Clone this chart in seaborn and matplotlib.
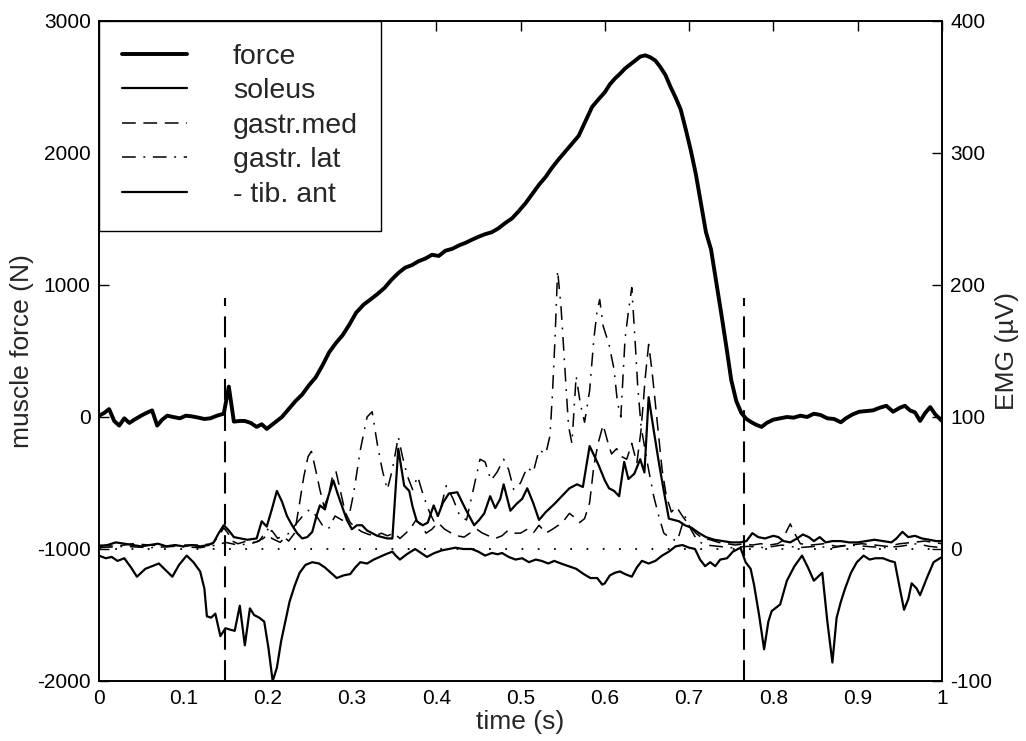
import matplotlib
matplotlib.use("Agg")
import matplotlib.pyplot as plt
import seaborn as sns

# muscle force (N), left axis
t_force = [0.000, 0.006, 0.012, 0.018, 0.024, 0.030, 0.036, 0.042, 0.050, 0.056,
           0.063, 0.069, 0.075, 0.081, 0.088, 0.096, 0.103, 0.110, 0.118, 0.125,
           0.132, 0.140, 0.148, 0.154, 0.160, 0.167, 0.173, 0.180, 0.187, 0.193,
           0.199, 0.205, 0.211, 0.217, 0.225, 0.233, 0.241, 0.249, 0.257, 0.265,
           0.273, 0.281, 0.289, 0.297, 0.305, 0.314, 0.322, 0.330, 0.339, 0.347,
           0.355, 0.363, 0.371, 0.379, 0.387, 0.395, 0.403, 0.411, 0.419, 0.427,
           0.435, 0.442, 0.450, 0.458, 0.466, 0.474, 0.482, 0.490, 0.498, 0.506,
           0.514, 0.522, 0.530, 0.537, 0.545, 0.553, 0.561, 0.569, 0.577, 0.585,
           0.593, 0.600, 0.606, 0.612, 0.618, 0.624, 0.630, 0.636, 0.642, 0.648,
           0.654, 0.660, 0.666, 0.672, 0.678, 0.684, 0.690, 0.696, 0.702, 0.708,
           0.714, 0.720, 0.726, 0.732, 0.738, 0.744, 0.750, 0.756, 0.762, 0.768,
           0.774, 0.780, 0.786, 0.792, 0.800, 0.808, 0.816, 0.824, 0.832, 0.840,
           0.848, 0.856, 0.864, 0.872, 0.880, 0.886, 0.894, 0.902, 0.910, 0.918,
           0.926, 0.934, 0.942, 0.950, 0.956, 0.962, 0.968, 0.974, 0.980, 0.986,
           0.992, 1.000]
force = [10, 30, 60, -30, -65, -10, -45, -20, 10, 30,
         50, -65, -20, 10, 0, -10, 10, 5, -5, -15,
         -10, 10, 25, 230, -35, -30, -30, -45, -75, -55,
         -90, -60, -30, 0, 60, 120, 170, 240, 300, 390,
         490, 560, 620, 700, 790, 852, 890, 930, 980, 1040,
         1090, 1131, 1150, 1180, 1200, 1229, 1220, 1260, 1274, 1300,
         1320, 1342, 1365, 1385, 1400, 1430, 1470, 1505, 1560, 1620,
         1690, 1760, 1820, 1885, 1950, 2010, 2070, 2130, 2240, 2350,
         2410, 2460, 2520, 2564, 2600, 2640, 2670, 2700, 2730, 2740,
         2725, 2700, 2650, 2590, 2500, 2420, 2330, 2180, 2020, 1840,
         1620, 1400, 1270, 1030, 790, 540, 280, 120, 30, -15,
         -40, -60, -75, -45, -20, -10, 0, -5, 10, 0,
         25, 15, -10, -15, -40, -10, 20, 40, 45, 50,
         70, 85, 40, 70, 85, 50, 35, -30, 30, 75,
         20, -30]

# EMG (uV), right axis
t_soleus = [0.000, 0.010, 0.020, 0.030, 0.040, 0.050, 0.060, 0.070, 0.080, 0.090,
            0.100, 0.110, 0.120, 0.130, 0.136, 0.142, 0.148, 0.154, 0.160, 0.168,
            0.176, 0.187, 0.193, 0.199, 0.205, 0.211, 0.217, 0.223, 0.229, 0.235,
            0.241, 0.247, 0.253, 0.258, 0.262, 0.268, 0.272, 0.278, 0.283, 0.288,
            0.294, 0.300, 0.306, 0.312, 0.318, 0.324, 0.330, 0.336, 0.342, 0.348,
            0.355, 0.362, 0.368, 0.372, 0.377, 0.384, 0.390, 0.397, 0.402, 0.408,
            0.415, 0.425, 0.435, 0.445, 0.451, 0.457, 0.464, 0.470, 0.476, 0.480,
            0.488, 0.495, 0.502, 0.508, 0.515, 0.522, 0.530, 0.540, 0.549, 0.558,
            0.567, 0.574, 0.582, 0.588, 0.593, 0.600, 0.605, 0.611, 0.617, 0.623,
            0.628, 0.635, 0.642, 0.647, 0.652, 0.658, 0.664, 0.670, 0.676, 0.682,
            0.688, 0.695, 0.703, 0.712, 0.720, 0.730, 0.740, 0.750, 0.760, 0.768,
            0.775, 0.782, 0.790, 0.800, 0.806, 0.812, 0.820, 0.828, 0.835, 0.842,
            0.848, 0.855, 0.862, 0.870, 0.880, 0.890, 0.900, 0.910, 0.920, 0.930,
            0.940, 0.946, 0.953, 0.960, 0.968, 0.976, 0.985, 0.993, 1.000]
soleus = [2, 3, 5, 4, 3, 2, 3, 4, 2, 3,
          2, 3, 2, 3, 5, 12, 18, 14, 9, 8,
          7, 8, 21, 17, 30, 44, 36, 25, 18, 12,
          8, 9, 13, 25, 33, 30, 40, 52, 42, 33,
          22, 15, 18, 18, 14, 12, 10, 9, 8, 8,
          76, 48, 44, 32, 21, 18, 20, 33, 25, 35,
          42, 43, 30, 18, 22, 27, 40, 31, 38, 49,
          29, 34, 38, 46, 35, 22, 28, 34, 40, 46,
          49, 47, 78, 70, 63, 52, 46, 44, 40, 66,
          53, 57, 68, 58, 115, 90, 66, 44, 23, 22,
          21, 18, 16, 12, 9, 7, 6, 5, 5, 6,
          12, 9, 8, 10, 9, 6, 5, 8, 11, 9,
          6, 9, 5, 6, 6, 5, 5, 6, 7, 6,
          5, 8, 13, 9, 10, 8, 7, 6, 6]

t_gmed = [0.000, 0.020, 0.040, 0.060, 0.080, 0.100, 0.120, 0.135, 0.142, 0.148,
          0.153, 0.158, 0.165, 0.175, 0.185, 0.195, 0.205, 0.212, 0.218, 0.225,
          0.232, 0.238, 0.243, 0.248, 0.252, 0.257, 0.262, 0.267, 0.272, 0.277,
          0.281, 0.286, 0.292, 0.298, 0.305, 0.312, 0.320, 0.328, 0.335, 0.342,
          0.350, 0.357, 0.364, 0.370, 0.376, 0.382, 0.388, 0.395, 0.402, 0.410,
          0.418, 0.425, 0.433, 0.440, 0.448, 0.455, 0.462, 0.470, 0.478, 0.485,
          0.492, 0.500, 0.508, 0.515, 0.522, 0.530, 0.538, 0.545, 0.552, 0.558,
          0.564, 0.570, 0.576, 0.582, 0.587, 0.592, 0.598, 0.604, 0.608, 0.614,
          0.620, 0.626, 0.632, 0.638, 0.643, 0.648, 0.652, 0.656, 0.660, 0.664,
          0.668, 0.673, 0.679, 0.685, 0.692, 0.700, 0.708, 0.716, 0.725, 0.735,
          0.745, 0.755, 0.765, 0.775, 0.785, 0.795, 0.805, 0.810, 0.816, 0.820,
          0.825, 0.832, 0.845, 0.860, 0.875, 0.890, 0.905, 0.920, 0.935, 0.950,
          0.965, 0.980, 0.990, 1.000]
gmed = [3, 2, 4, 3, 2, 3, 3, 4, 10, 16,
        12, 6, 4, 6, 5, 8, 14, 8, 10, 6,
        12, 35, 55, 70, 74, 60, 45, 32, 40, 55,
        59, 45, 28, 20, 16, 13, 11, 10, 12, 10,
        12, 8, 12, 16, 22, 18, 12, 15, 20, 15,
        12, 10, 9, 12, 15, 12, 10, 8, 10, 14,
        12, 12, 15, 12, 18, 12, 15, 18, 22, 27,
        24, 20, 23, 35, 63, 80, 94, 80, 72, 76,
        70, 68, 80, 65, 90, 130, 155, 135, 110, 85,
        60, 40, 28, 32, 25, 18, 12, 8, 7, 5,
        4, 3, 4, 3, 4, 3, 4, 6, 14, 19,
        12, 4, 3, 4, 2, 3, 4, 3, 2, 4,
        5, 6, 5, 4]

t_glat = [0.000, 0.030, 0.060, 0.090, 0.120, 0.140, 0.150, 0.165, 0.180, 0.190,
          0.200, 0.205, 0.215, 0.225, 0.235, 0.243, 0.250, 0.258, 0.265, 0.272,
          0.280, 0.288, 0.295, 0.302, 0.310, 0.318, 0.324, 0.330, 0.336, 0.342,
          0.348, 0.355, 0.360, 0.366, 0.372, 0.378, 0.385, 0.392, 0.398, 0.405,
          0.412, 0.420, 0.428, 0.436, 0.444, 0.452, 0.458, 0.465, 0.472, 0.480,
          0.486, 0.492, 0.500, 0.508, 0.515, 0.522, 0.530, 0.535, 0.538, 0.541,
          0.544, 0.548, 0.551, 0.554, 0.557, 0.561, 0.566, 0.571, 0.576, 0.582,
          0.587, 0.591, 0.594, 0.598, 0.605, 0.611, 0.615, 0.619, 0.624, 0.628,
          0.632, 0.636, 0.639, 0.643, 0.647, 0.652, 0.658, 0.664, 0.670, 0.678,
          0.686, 0.695, 0.702, 0.710, 0.720, 0.735, 0.750, 0.770, 0.790, 0.810,
          0.830, 0.850, 0.870, 0.890, 0.910, 0.930, 0.950, 0.970, 0.985, 1.000]
glat = [1, 2, 1, 2, 1, 3, 5, 3, 4, 6,
        15, 8, 5, 12, 20, 26, 30, 25, 18, 15,
        25, 22, 20, 42, 75, 100, 104, 80, 60, 45,
        60, 85, 70, 55, 45, 55, 40, 28, 20, 30,
        48, 38, 25, 22, 45, 68, 66, 52, 58, 68,
        60, 45, 50, 62, 58, 75, 72, 86, 119, 160,
        211, 184, 154, 123, 93, 80, 131, 110, 96, 120,
        159, 181, 189, 169, 155, 136, 111, 100, 159, 180,
        198, 157, 124, 93, 78, 60, 40, 25, 12, 8,
        6, 25, 15, 6, 3, 2, 1, 2, 1, 3,
        1, 2, 1, 3, 2, 1, 2, 4, 2, 1]

t_tib = [0.000, 0.008, 0.015, 0.022, 0.030, 0.038, 0.045, 0.050, 0.055, 0.063,
         0.071, 0.079, 0.087, 0.095, 0.104, 0.112, 0.120, 0.125, 0.128, 0.133,
         0.138, 0.144, 0.150, 0.155, 0.161, 0.167, 0.173, 0.179, 0.184, 0.190,
         0.196, 0.201, 0.206, 0.211, 0.216, 0.221, 0.226, 0.232, 0.238, 0.245,
         0.253, 0.261, 0.268, 0.275, 0.282, 0.290, 0.298, 0.304, 0.310, 0.318,
         0.326, 0.333, 0.340, 0.348, 0.352, 0.357, 0.365, 0.375, 0.382, 0.389,
         0.398, 0.407, 0.415, 0.423, 0.432, 0.442, 0.450, 0.458, 0.466, 0.473,
         0.478, 0.486, 0.494, 0.502, 0.510, 0.518, 0.525, 0.533, 0.540, 0.548,
         0.557, 0.566, 0.575, 0.583, 0.591, 0.597, 0.600, 0.606, 0.612, 0.618,
         0.624, 0.632, 0.638, 0.644, 0.652, 0.660, 0.668, 0.676, 0.684, 0.692,
         0.700, 0.707, 0.713, 0.719, 0.725, 0.731, 0.737, 0.745, 0.752, 0.761,
         0.767, 0.773, 0.777, 0.783, 0.789, 0.794, 0.798, 0.808, 0.816, 0.825,
         0.834, 0.841, 0.848, 0.853, 0.858, 0.864, 0.870, 0.875, 0.880, 0.885,
         0.892, 0.899, 0.907, 0.914, 0.921, 0.930, 0.938, 0.944, 0.950, 0.955,
         0.960, 0.964, 0.970, 0.974, 0.982, 0.990, 1.000]
tib = [-5, -7, -6, -9, -7, -14, -21, -18, -15, -13,
       -11, -16, -21, -12, -5, -10, -17, -30, -51, -52,
       -49, -66, -60, -61, -62, -43, -73, -45, -50, -52,
       -55, -75, -100, -90, -70, -55, -40, -28, -18, -12,
       -10, -11, -14, -18, -22, -20, -19, -14, -10, -11,
       -8, -6, -4, -2, -5, -8, -4, 0, -3, -6,
       -3, -1, 0, 1, 0, 0, -2, -5, -3, -4,
       -3, -6, -8, -7, -10, -8, -9, -11, -9, -11,
       -13, -15, -19, -22, -22, -27, -26, -20, -18, -17,
       -19, -21, -14, -9, -11, -9, -5, -2, 2, 3,
       1, 0, -8, -13, -10, -13, -8, -7, -2, 1,
       -10, -15, -27, -50, -76, -55, -47, -42, -24, -13,
       -5, -14, -24, -21, -18, -55, -86, -52, -40, -30,
       -18, -10, -5, -8, -7, -7, -9, -10, -30, -46,
       -38, -26, -30, -35, -22, -10, -6]

# onset / offset markers (s) and their top (N)
event_times = [0.15, 0.765]
event_top = 900

labels = ["force", "soleus", "gastr.med", "gastr. lat", "- tib. ant"]

sns.set_style("white")
plt.rcParams["font.family"] = ["Liberation Sans", "DejaVu Sans"]
plt.rcParams["axes.unicode_minus"] = False

fig = plt.figure(figsize=(10.26, 7.41), dpi=100)
ax = fig.add_axes([99 / 1026, 60 / 741, 843 / 1026, 660 / 741])
ax2 = ax.twinx()


def trace(axis, t, y, **kw):
    sns.lineplot(x=t, y=y, ax=axis, estimator=None, sort=False, color="black", **kw)
    return axis.lines[-1]


handles = [trace(ax, t_force, force, linewidth=2.8)]
handles.append(trace(ax2, t_soleus, soleus, linewidth=1.6))
handles.append(trace(ax2, t_gmed, gmed, linewidth=1.1, linestyle=(0, (9, 5))))
handles.append(trace(ax2, t_glat, glat, linewidth=1.1, linestyle=(0, (9, 5, 1.2, 5))))
handles.append(trace(ax2, t_tib, tib, linewidth=1.6))

ax2.axhline(0, color="black", linewidth=1.3, linestyle=(0, (1, 8)))
ax.vlines(event_times, -2000, event_top, colors="black", linewidth=1.5,
          linestyles=(0, (10, 5)))

ax.set_xlim(0, 1)
ax.set_ylim(-2000, 3000)
ax2.set_ylim(-100, 400)
ax.set_xticks([i / 10 for i in range(11)])
ax.set_xticklabels(["0"] + [f"{i / 10:g}" for i in range(1, 10)] + ["1"])
ax.set_yticks(range(-2000, 3001, 1000))
ax2.set_yticks(range(-100, 401, 100))

ax.tick_params(direction="in", length=7, width=1, top=True, right=False,
               labelsize=15, pad=6, colors="black")
ax2.tick_params(direction="in", length=7, width=1, labelsize=15, pad=6,
                colors="black")
for a in (ax, ax2):
    for s in a.spines.values():
        s.set_color("black")
        s.set_linewidth(1.2)

ax.set_xlabel("time (s)", fontsize=19, labelpad=1)
ax.set_ylabel("muscle force (N)", fontsize=19, labelpad=2)
ax2.set_ylabel("EMG (µV)", fontsize=19, labelpad=2)

leg = ax2.legend(handles, labels, loc="upper left", borderaxespad=0,
                 frameon=True, fancybox=False, edgecolor="black", framealpha=1,
                 fontsize=20.5, handlelength=2.3, handletextpad=1.6,
                 labelspacing=0.3, borderpad=0.8)
leg.get_frame().set_linewidth(1.0)

fig.savefig("out.png", dpi=100)
